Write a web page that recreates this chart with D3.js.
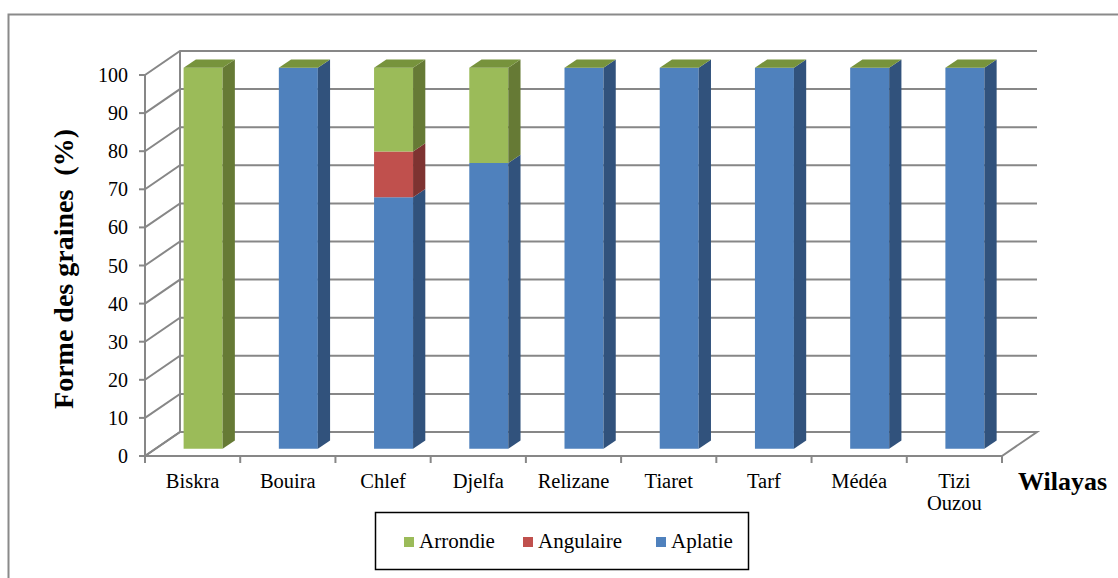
<!DOCTYPE html>
<html>
<head>
<meta charset="utf-8">
<script src="https://cdn.jsdelivr.net/npm/d3@7"></script>
<style>
  html, body { margin: 0; padding: 0; background: #fff; }
  svg { display: block; }
  text { font-family: "Liberation Serif", "DejaVu Serif", "Times New Roman", serif; fill: #000; }
</style>
</head>
<body>
<svg id="chart" width="1118" height="578"></svg>
<script>
// Grain shape distribution (%) per wilaya
const categories = ["Biskra", "Bouira", "Chlef", "Djelfa", "Relizane", "Tiaret", "Tarf", "Médéa", "Tizi Ouzou"];
const aplatie   = [0, 100, 66, 75, 100, 100, 100, 100, 100];
const angulaire = [0,   0, 12,  0,   0,   0,   0,   0,   0];
const arrondie  = [100, 0, 22, 25,   0,   0,   0,   0,   0];
const yTicks = [0, 10, 20, 30, 40, 50, 60, 70, 80, 90, 100];
const seriesNames = ["Aplatie", "Angulaire", "Arrondie"];
const legendOrder = ["Arrondie", "Angulaire", "Aplatie"];

const colors = {
  Aplatie:   { front: "#4F81BD", side: "#31527C" },
  Angulaire: { front: "#C0504D", side: "#7E3331" },
  Arrondie:  { front: "#9BBB59", side: "#667A35" }
};
const topColor = "#77933C";
const gridColor = "#878787";

const svg = d3.select("#chart");

// outer chart frame
svg.append("rect")
  .attr("x", 8.5).attr("y", 14.5).attr("width", 1130).attr("height", 580)
  .attr("fill", "none").attr("stroke", "#8a8a8a").attr("stroke-width", 2);

// front plane scales and depth projection
const x = d3.scaleBand().domain(categories).range([145, 1002]).paddingInner(0).paddingOuter(0);
const y = d3.scaleLinear().domain([0, 100]).range([456, 75]);
const depth = { dx: 35, dy: -24 };
const P = (px, v, z) => [px + depth.dx * z, y(v) + depth.dy * z];

const rows = categories.map((c, i) => ({ cat: c, Aplatie: aplatie[i], Angulaire: angulaire[i], Arrondie: arrondie[i] }));
const stacked = d3.stack().keys(seriesNames)(rows);

const g = svg.append("g");
const x0 = x.range()[0], x1 = x.range()[1];

// floor
const floor = [P(x0, 0, 0), P(x1, 0, 0), P(x1, 0, 1), P(x0, 0, 1)];
g.append("path").attr("d", d3.line()(floor) + "Z")
  .attr("fill", "none").attr("stroke", gridColor).attr("stroke-width", 2);

// back wall + side wall gridlines
yTicks.forEach(t => {
  g.append("path")
    .attr("d", d3.line()([P(x0, t, 0), P(x0, t, 1), P(x1, t, 1)]))
    .attr("fill", "none").attr("stroke", gridColor).attr("stroke-width", 2);
});
// side wall back edge
g.append("path").attr("d", d3.line()([P(x0, 0, 1), P(x0, 100, 1)]))
  .attr("fill", "none").attr("stroke", gridColor).attr("stroke-width", 2);

// value axis
g.append("path").attr("d", d3.line()([[x0, y(0)], [x0, y(100)]]))
  .attr("stroke", gridColor).attr("stroke-width", 2);
yTicks.forEach(t => {
  g.append("line").attr("x1", x0 - 6).attr("x2", x0).attr("y1", y(t)).attr("y2", y(t))
    .attr("stroke", gridColor).attr("stroke-width", 2);
  g.append("text").attr("x", 128).attr("y", y(t)).attr("dy", "0.35em")
    .attr("text-anchor", "end").attr("font-size", 20).text(t);
});

// category axis ticks
const boundaries = categories.map(c => x(c)).concat([x1]);
boundaries.forEach(b => {
  g.append("line").attr("x1", b).attr("x2", b).attr("y1", y(0)).attr("y2", y(0) + 7)
    .attr("stroke", gridColor).attr("stroke-width", 2);
});

// 3D stacked bars
const barW = 39;
const zF = 0.3, zB = 0.65;
categories.forEach((c, i) => {
  const bx0 = x(c) + (x.bandwidth() - barW) / 2;
  const bx1 = bx0 + barW;
  let topV = 0;
  stacked.forEach(s => {
    const [v0, v1] = s[i];
    if (v1 - v0 <= 0) return;
    topV = v1;
    const col = colors[s.key];
    const front = [P(bx0, v0, zF), P(bx1, v0, zF), P(bx1, v1, zF), P(bx0, v1, zF)];
    const side = [P(bx1, v0, zF), P(bx1, v0, zB), P(bx1, v1, zB), P(bx1, v1, zF)];
    g.append("path").attr("d", d3.line()(front) + "Z").attr("fill", col.front);
    g.append("path").attr("d", d3.line()(side) + "Z").attr("fill", col.side);
  });
  const top = [P(bx0, topV, zF), P(bx1, topV, zF), P(bx1, topV, zB), P(bx0, topV, zB)];
  g.append("path").attr("d", d3.line()(top) + "Z").attr("fill", topColor);
});

// category labels
categories.forEach(c => {
  const t = g.append("text").attr("x", x(c) + x.bandwidth() / 2).attr("y", 488)
    .attr("text-anchor", "middle").attr("font-size", 20.5);
  c.split(" ").forEach((w, k) => {
    t.append("tspan").attr("x", x(c) + x.bandwidth() / 2).attr("dy", k === 0 ? 0 : 22).text(w);
  });
});

// axis titles
svg.append("text").attr("x", 1018).attr("y", 490)
  .attr("font-size", 26).attr("font-weight", "bold").text("Wilayas");
svg.append("text").attr("transform", "translate(73,269) rotate(-90)")
  .attr("text-anchor", "middle").attr("font-size", 28).attr("font-weight", "bold")
  .style("white-space", "pre")
  .text("Forme des graines  (%)");

// legend
const lg = svg.append("g");
lg.append("rect").attr("x", 375.5).attr("y", 512.5).attr("width", 373).attr("height", 57)
  .attr("fill", "#fff").attr("stroke", "#000").attr("stroke-width", 1.5);
const legendPos = { Arrondie: 404, Angulaire: 523, Aplatie: 656 };
legendOrder.forEach(k => {
  const lx = legendPos[k];
  lg.append("rect").attr("x", lx).attr("y", 537).attr("width", 10).attr("height", 10)
    .attr("fill", colors[k].front);
  lg.append("text").attr("x", lx + 15).attr("y", 548).attr("font-size", 21).text(k);
});
</script>
</body>
</html>
